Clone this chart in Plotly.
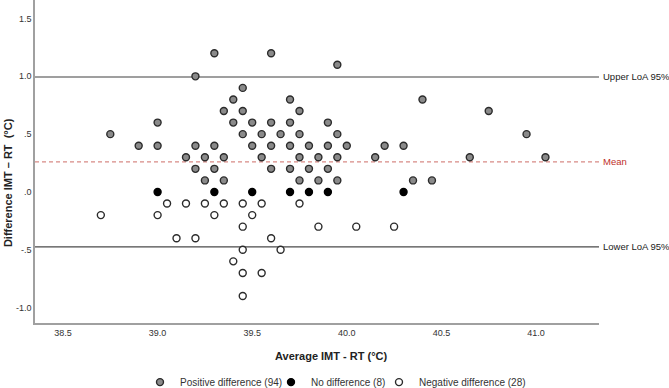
import plotly.graph_objects as go

# Data
pos_x = [39.3, 39.6,
         39.95,
         39.2,
         39.45,
         39.4, 39.7, 40.4,
         39.35, 39.45, 39.75, 40.75,
         39.0, 39.4, 39.5, 39.6, 39.7, 39.9,
         38.75, 39.45, 39.55, 39.65, 39.75, 39.95, 40.95,
         38.9, 39.0, 39.2, 39.3, 39.5, 39.6, 39.7, 39.8, 39.9, 40.0, 40.2, 40.3,
         39.15, 39.25, 39.35, 39.55, 39.75, 39.85, 39.95, 40.15, 40.65, 41.05,
         39.2, 39.3, 39.6, 39.7, 39.8, 39.9,
         39.25, 39.35, 39.75, 39.85, 39.95, 40.35, 40.45]
pos_y = [1.2, 1.2,
         1.1,
         1.0,
         0.9,
         0.8, 0.8, 0.8,
         0.7, 0.7, 0.7, 0.7,
         0.6, 0.6, 0.6, 0.6, 0.6, 0.6,
         0.5, 0.5, 0.5, 0.5, 0.5, 0.5, 0.5,
         0.4, 0.4, 0.4, 0.4, 0.4, 0.4, 0.4, 0.4, 0.4, 0.4, 0.4, 0.4,
         0.3, 0.3, 0.3, 0.3, 0.3, 0.3, 0.3, 0.3, 0.3, 0.3,
         0.2, 0.2, 0.2, 0.2, 0.2, 0.2,
         0.1, 0.1, 0.1, 0.1, 0.1, 0.1, 0.1]

zero_x = [39.0, 39.3, 39.5, 39.7, 39.8, 39.9, 40.3]
zero_y = [0.0, 0.0, 0.0, 0.0, 0.0, 0.0, 0.0]

neg_x = [39.05, 39.15, 39.25, 39.35, 39.45, 39.55, 39.75,
         38.7, 39.0, 39.3, 39.5,
         39.45, 39.85, 40.05, 40.25,
         39.1, 39.2, 39.6,
         39.45, 39.65,
         39.4,
         39.45, 39.55,
         39.45]
neg_y = [-0.1, -0.1, -0.1, -0.1, -0.1, -0.1, -0.1,
         -0.2, -0.2, -0.2, -0.2,
         -0.3, -0.3, -0.3, -0.3,
         -0.4, -0.4, -0.4,
         -0.5, -0.5,
         -0.6,
         -0.7, -0.7,
         -0.9]

series_names = ["Positive difference (94)", "No difference (8)", "Negative difference (28)"]

mean_diff = 0.26
upper_loa = 0.995
lower_loa = -0.475
ref_labels = ["Upper LoA 95%", "Mean", "Lower LoA 95%"]

x_ticks = [38.5, 39.0, 39.5, 40.0, 40.5, 41.0]
x_ticktext = ["38.5", "39.0", "39.5", "40.0", "40.5", "41.0"]
y_ticks = [1.5, 1.0, 0.5, 0.0, -0.5, -1.0]
y_ticktext = ["1.5", "1.0", ".5", ".0", "-.5", "-1.0"]

FONT = "Liberation Sans, Arial, sans-serif"
msize = 7
mline = dict(color="#2b2b2b", width=1.4)

fig = go.Figure()
fig.add_trace(go.Scatter(x=pos_x, y=pos_y, mode="markers", name=series_names[0], legend="legend",
                         marker=dict(size=msize, color="#8a8a8a", line=mline)))
fig.add_trace(go.Scatter(x=zero_x, y=zero_y, mode="markers", name=series_names[1], legend="legend2",
                         marker=dict(size=msize, color="#000000", line=dict(color="#000000", width=1.4))))
fig.add_trace(go.Scatter(x=neg_x, y=neg_y, mode="markers", name=series_names[2], legend="legend3",
                         marker=dict(size=msize, color="#ffffff", line=mline)))

# reference lines
fig.add_shape(type="line", xref="paper", x0=0, x1=1, yref="y", y0=upper_loa, y1=upper_loa,
              line=dict(color="#7f7f7f", width=1.5), layer="below")
fig.add_shape(type="line", xref="paper", x0=0, x1=1, yref="y", y0=lower_loa, y1=lower_loa,
              line=dict(color="#4a4a4a", width=1.3), layer="below")
fig.add_shape(type="line", xref="paper", x0=0, x1=1, yref="y", y0=mean_diff, y1=mean_diff,
              line=dict(color="#d88a85", width=1.3, dash="4px,3px"), layer="below")

fig.add_annotation(xref="paper", x=1.003, yref="y", y=upper_loa, text=ref_labels[0],
                   showarrow=False, xanchor="left", font=dict(size=9.5, color="#222", family=FONT))
fig.add_annotation(xref="paper", x=1.003, yref="y", y=mean_diff, text=ref_labels[1],
                   showarrow=False, xanchor="left", font=dict(size=9.5, color="#c0302a", family=FONT))
fig.add_annotation(xref="paper", x=1.003, yref="y", y=lower_loa, text=ref_labels[2],
                   showarrow=False, xanchor="left", font=dict(size=9.5, color="#222", family=FONT))

# axis titles
fig.add_annotation(xref="paper", x=-0.048, yref="paper", y=0.436, text="<b>Difference IMT – RT  (°C)</b>",
                   textangle=-90, showarrow=False, xanchor="center", yanchor="middle",
                   font=dict(size=11, color="#222", family=FONT))
fig.add_annotation(xref="paper", x=0.525, yref="paper", y=-0.103, text="<b>Average IMT - RT (°C)</b>",
                   showarrow=False, xanchor="center", yanchor="middle",
                   font=dict(size=11, color="#222", family=FONT))

leg_common = dict(orientation="h", xanchor="left", y=-0.183, yanchor="middle",
                  font=dict(size=10, color="#333", family=FONT), itemwidth=30,
                  bgcolor="rgba(0,0,0,0)")

fig.update_layout(
    width=669, height=388,
    margin=dict(l=35, r=70, t=0, b=65, autoexpand=False),
    paper_bgcolor="white", plot_bgcolor="white",
    font=dict(family=FONT, size=9, color="#333"),
    showlegend=True,
    legend=dict(x=(140 - 35) / 564, **leg_common),
    legend2=dict(x=(271 - 35) / 564, **leg_common),
    legend3=dict(x=(379 - 35) / 564, **leg_common),
    xaxis=dict(range=[38.352, 41.333], tickvals=x_ticks, ticktext=x_ticktext,
               showgrid=False, zeroline=False, showline=True, linecolor="#a0a0a0", linewidth=1.5,
               ticks="", tickfont=dict(size=9, color="#333", family=FONT)),
    yaxis=dict(range=[-1.133, 1.66], tickvals=y_ticks, ticktext=y_ticktext,
               showgrid=False, zeroline=False, showline=True, linecolor="#a0a0a0", linewidth=1.5,
               ticks="", tickfont=dict(size=9, color="#333", family=FONT)),
)

fig.write_html("out.html", config={"displayModeBar": False},
               post_script="document.body.style.margin='0';document.body.style.overflow='hidden';")
